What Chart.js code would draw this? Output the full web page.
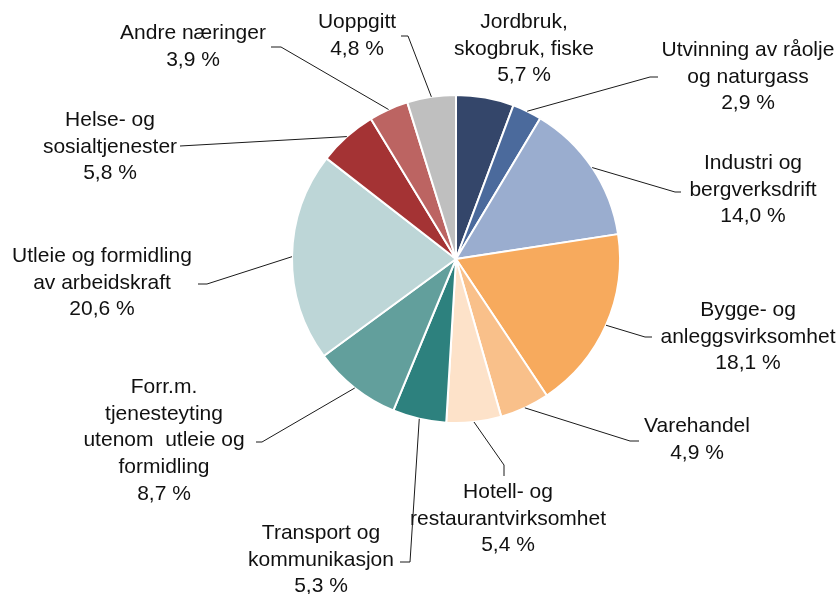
<!DOCTYPE html>
<html>
<head>
<meta charset="utf-8">
<script src="https://cdn.jsdelivr.net/npm/chart.js@4/dist/chart.umd.min.js"></script>
<style>
  body { margin: 0; background: #fff; }
  #wrap { width: 839px; height: 594px; }
</style>
</head>
<body>
<div id="wrap"><canvas id="pie" width="839" height="594"></canvas></div>
<script>
// categories (label lines split by \n) and shares in percent
const categories = [
  "Jordbruk,\nskogbruk, fiske",
  "Utvinning av råolje\nog naturgass",
  "Industri og\nbergverksdrift",
  "Bygge- og\nanleggsvirksomhet",
  "Varehandel",
  "Hotell- og\nrestaurantvirksomhet",
  "Transport og\nkommunikasjon",
  "Forr.m.\ntjenesteyting\nutenom  utleie og\nformidling",
  "Utleie og formidling\nav arbeidskraft",
  "Helse- og\nsosialtjenester",
  "Andre næringer",
  "Uoppgitt"
];
const shares = [5.7, 2.9, 14.0, 18.1, 4.9, 5.4, 5.3, 8.7, 20.6, 5.8, 3.9, 4.8];
const colors = [
  "#34466a", "#4b6a9c", "#9aadcf", "#f7aa5d", "#f9c08a", "#fde2c9",
  "#2d817e", "#629f9c", "#bdd6d7", "#a43334", "#bc6462", "#bfbfbf"
];

// label placement: text centre x, first line y, leader elbow and end point
const labelPos = [
  { x: 524, y: 22, elbow: null, end: null },
  { x: 748, y: 50, elbow: [650, 77], end: [658, 77] },
  { x: 753, y: 163, elbow: [675, 192], end: [681, 192] },
  { x: 748, y: 310, elbow: [645, 337], end: [652, 337] },
  { x: 697, y: 426, elbow: [630, 441], end: [639, 441] },
  { x: 508, y: 492, elbow: [504, 465], end: [504, 476] },
  { x: 321, y: 533, elbow: [410, 562], end: [400, 562] },
  { x: 164, y: 387, elbow: [262, 442], end: [256, 442] },
  { x: 102, y: 256, elbow: [207, 284], end: [198, 284] },
  { x: 110, y: 120, elbow: [180, 146], end: [180, 146] },
  { x: 193, y: 33, elbow: [281, 47], end: [271, 47] },
  { x: 357, y: 22, elbow: [408, 36], end: [401, 36] }
];
const lineStep = 26.8;

const fmt = (v) => v.toFixed(1).replace(".", ",") + " %";

const labelPlugin = {
  id: "pieLabels",
  afterDraw(chart) {
    const ctx = chart.ctx;
    const meta = chart.getDatasetMeta(0);
    ctx.save();
    meta.data.forEach((arc, i) => {
      const p = arc.getProps(["x", "y", "startAngle", "endAngle", "outerRadius"], true);
      const mid = (p.startAngle + p.endAngle) / 2;
      const pos = labelPos[i];
      if (pos.elbow) {
        ctx.strokeStyle = "#1a1a1a";
        ctx.lineWidth = 1;
        ctx.beginPath();
        ctx.moveTo(p.x + Math.cos(mid) * p.outerRadius, p.y + Math.sin(mid) * p.outerRadius);
        ctx.lineTo(pos.elbow[0], pos.elbow[1]);
        ctx.lineTo(pos.end[0], pos.end[1]);
        ctx.stroke();
      }
      const lines = categories[i].split("\n").concat([fmt(shares[i])]);
      ctx.fillStyle = "#111";
      ctx.font = "21px 'Liberation Sans', Arial, sans-serif";
      ctx.textAlign = "center";
      ctx.textBaseline = "middle";
      lines.forEach((t, k) => ctx.fillText(t, pos.x, pos.y + k * lineStep));
    });
    ctx.restore();
  }
};

new Chart(document.getElementById("pie"), {
  type: "pie",
  data: {
    labels: categories,
    datasets: [{
      data: shares,
      backgroundColor: colors,
      borderColor: "#fff",
      borderWidth: 2
    }]
  },
  options: {
    responsive: false,
    animation: false,
    events: [],
    layout: { padding: { left: 291, right: 218, top: 94, bottom: 170 } },
    plugins: {
      legend: { display: false },
      tooltip: { enabled: false }
    }
  },
  plugins: [labelPlugin]
});
</script>
</body>
</html>
